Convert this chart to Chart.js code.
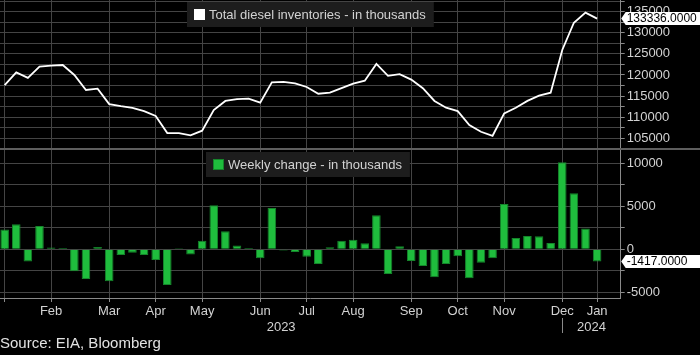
<!DOCTYPE html>
<html><head><meta charset="utf-8">
<script src="https://cdn.jsdelivr.net/npm/chart.js@4/dist/chart.umd.min.js"></script>
<style>
html,body{margin:0;padding:0;background:#000;}
#wrap{position:relative;width:700px;height:355px;background:#000;}
canvas{display:block;}
</style></head>
<body><div id="wrap"><canvas id="c" width="700" height="355"></canvas></div>
<script>
// ---- data (weekly, week ending Friday) ----
const weekDates = [
 '2023-01-27','2023-02-03','2023-02-10','2023-02-17','2023-02-24',
 '2023-03-03','2023-03-10','2023-03-17','2023-03-24','2023-03-31',
 '2023-04-07','2023-04-14','2023-04-21','2023-04-28',
 '2023-05-05','2023-05-12','2023-05-19','2023-05-26',
 '2023-06-02','2023-06-09','2023-06-16','2023-06-23','2023-06-30',
 '2023-07-07','2023-07-14','2023-07-21','2023-07-28',
 '2023-08-04','2023-08-11','2023-08-18','2023-08-25',
 '2023-09-01','2023-09-08','2023-09-15','2023-09-22','2023-09-29',
 '2023-10-06','2023-10-13','2023-10-20','2023-10-27',
 '2023-11-03','2023-11-10','2023-11-17','2023-11-24',
 '2023-12-01','2023-12-08','2023-12-15','2023-12-22','2023-12-29',
 '2024-01-05','2024-01-12','2024-01-19'
];
const inventory = [
 117600,120600,119300,121950,122200,
 122350,120000,116450,116750,113100,
 112600,112200,111450,110300,
 106250,106250,105700,106800,
 111700,113850,114300,114400,113450,
 118250,118350,118000,117150,
 115550,115800,116900,117950,
 118650,122600,119800,120200,118900,
 116850,113850,112250,111450,
 108150,106550,105600,110900,
 112250,113850,115100,115800,125900,
 132350,134750,133336
];
const weeklyChange = [
 2300,2900,-1400,2700,200,
 150,-2550,-3450,280,-3700,
 -650,-400,-650,-1250,
 -4150,120,-600,1000,
 5100,2100,450,150,-1050,
 4800,-150,-300,-850,
 -1700,250,1000,1100,
 700,3950,-2850,350,-1350,
 -1950,-3250,-1700,-800,
 -3350,-1550,-1050,5250,
 1300,1550,1500,720,10100,
 6500,2400,-1417
];
const seriesNames = ['Total diesel inventories - in thousands', 'Weekly change - in thousands'];
const monthTickLabels = ['', 'Feb','Mar','Apr','May','Jun','Jul','Aug','Sep','Oct','Nov','Dec','Jan'];
const yearLabels = ['2023','2024'];
const sourceText = 'Source: EIA, Bloomberg';

// ---- derived ----
const monthEndIdx = weekDates.map((d,i)=> (i===weekDates.length-1 || d.slice(5,7)!==weekDates[i+1].slice(5,7)) ? i : -1).filter(i=>i>=0);
const yearEndIdx = weekDates.map(d=>d.slice(0,4)).lastIndexOf(yearLabels[0]);

const FONT = "'Liberation Sans', Arial, sans-serif";
const TXT = '#d2d2d2';
const GRID = '#444444';
const AXIS = '#8a8a8a';
const BAR_FILL = '#1fbd3d';
const BAR_BORDER = '#15852b';

function stepTicks(s, step){
  const t=[]; for(let v=Math.ceil(s.min/step)*step; v<=s.max; v+=step) t.push({value:v});
  s.ticks=t;
}
function noPad(s){ s.paddingTop=0; s.paddingBottom=0; s.paddingLeft=0; s.paddingRight=0; }

function drawLegend(ctx, cx, top, text, fill, border){
  ctx.font = '13px ' + FONT;
  const tw = ctx.measureText(text).width;
  const w = 7 + 11 + 4 + tw + 8, h = 25;
  const x = Math.round(cx - w/2);
  ctx.fillStyle = '#1d1d1d';
  ctx.fillRect(x, top, w, h);
  ctx.fillStyle = fill;
  ctx.fillRect(x+7, top+7, 11, 11);
  if(border){ ctx.strokeStyle = border; ctx.lineWidth=1; ctx.strokeRect(x+7.5, top+7.5, 10, 10); }
  ctx.fillStyle = TXT; ctx.textAlign='left'; ctx.textBaseline='middle';
  ctx.fillText(text, x+22, top+h/2+0.5);
}
function drawTag(ctx, xr, y, text){
  ctx.fillStyle = '#ffffff';
  ctx.beginPath();
  ctx.moveTo(xr+0.5, y);
  ctx.lineTo(xr+5, y-6.5);
  ctx.lineTo(700, y-6.5);
  ctx.lineTo(700, y+6.5);
  ctx.lineTo(xr+5, y+6.5);
  ctx.closePath(); ctx.fill();
  ctx.fillStyle = '#000'; ctx.font = '12px ' + FONT;
  ctx.textAlign='left'; ctx.textBaseline='middle';
  ctx.fillText(text, xr+6, y+0.5);
}

const overlay = {
  id:'overlay',
  afterDraw(chart){
    const {ctx, chartArea, scales} = chart;
    const xs=scales.x, yt=scales.yTop, yb=scales.yBot;
    ctx.save();
    ctx.fillStyle = '#5e5e5e';
    ctx.fillRect(0, Math.round(yb.top)-1, chart.width, 2);
    const cx = (chartArea.left+chartArea.right)/2;
    drawLegend(ctx, cx, yt.top+2, seriesNames[0], '#ffffff', null);
    drawLegend(ctx, cx-2, yb.top+3, seriesNames[1], BAR_FILL, BAR_BORDER);
    const li = inventory.length-1;
    drawTag(ctx, chartArea.right, yt.getPixelForValue(inventory[li]), inventory[li].toFixed(4));
    drawTag(ctx, chartArea.right, yb.getPixelForValue(weeklyChange[li]), weeklyChange[li].toFixed(4));
    const bnd = xs.getPixelForValue(yearEndIdx);
    ctx.font = '13px ' + FONT; ctx.fillStyle = TXT; ctx.textAlign='center'; ctx.textBaseline='middle';
    ctx.fillText(yearLabels[0], (chartArea.left+bnd)/2, 327);
    ctx.fillText(yearLabels[1], (bnd+chartArea.right)/2, 327);
    ctx.fillStyle = AXIS;
    ctx.fillRect(Math.round(bnd), 318, 1, 15);
    ctx.restore();
  }
};

const yTickCb = v => (v % 5000 === 0 ? String(v) : '');

new Chart(document.getElementById('c'), {
  data: {
    datasets: [
      { type:'line', label:seriesNames[0], data: inventory.map((v,i)=>({x:i,y:v})), yAxisID:'yTop',
        borderColor:'#ffffff', borderWidth:1.8, pointRadius:0, tension:0, order:1 },
      { type:'bar', label:seriesNames[1], data: weeklyChange.map((v,i)=>({x:i,y:v})), yAxisID:'yBot',
        backgroundColor:BAR_FILL, borderColor:BAR_BORDER, borderWidth:1, barPercentage:0.74, categoryPercentage:1, order:2 }
    ]
  },
  options: {
    responsive:false, animation:false, devicePixelRatio:1,
    layout:{ padding:0 },
    plugins:{
      legend:{display:false}, tooltip:{enabled:false},
      title:{ display:true, position:'bottom', align:'start', text:sourceText, color:'#e2e2e2',
        font:{family:FONT, size:15, weight:'normal'}, padding:{top:0,bottom:2} }
    },
    scales:{
      x:{ type:'linear', min:-0.4, max:53.03, offset:false,
        afterBuildTicks: s => { s.ticks = monthEndIdx.map(v=>({value:v})); },
        ticks:{ callback:(v,i)=>monthTickLabels[i], color:TXT, font:{family:FONT,size:13}, maxRotation:0, autoSkip:false, padding:2 },
        grid:{ color:GRID, lineWidth:1, tickLength:4, tickColor:AXIS, offset:false, drawOnChartArea:true },
        border:{ color:AXIS },
        afterFit: s => { s.height = 37; noPad(s); } },
      yTop:{ type:'linear', position:'right', stack:'panels', stackWeight:1, min:102470, max:137740,
        afterBuildTicks: s => stepTicks(s, 2500),
        ticks:{ callback:yTickCb, color:TXT, font:{family:FONT,size:13}, padding:2, autoSkip:false },
        grid:{ color:GRID, lineWidth:1, tickLength:4, tickColor:AXIS },
        border:{ color:AXIS },
        afterFit: s => { s.width = 79.3; noPad(s); } },
      yBot:{ type:'linear', position:'right', stack:'panels', stackWeight:1, min:-5645, max:11626,
        afterBuildTicks: s => stepTicks(s, 2500),
        ticks:{ callback:yTickCb, color:TXT, font:{family:FONT,size:13}, padding:2, autoSkip:false },
        grid:{ color:GRID, lineWidth:1, tickLength:4, tickColor:AXIS },
        border:{ color:AXIS },
        afterFit: s => { s.width = 79.3; noPad(s); } }
    }
  },
  plugins:[overlay]
});
</script>
</body></html>
